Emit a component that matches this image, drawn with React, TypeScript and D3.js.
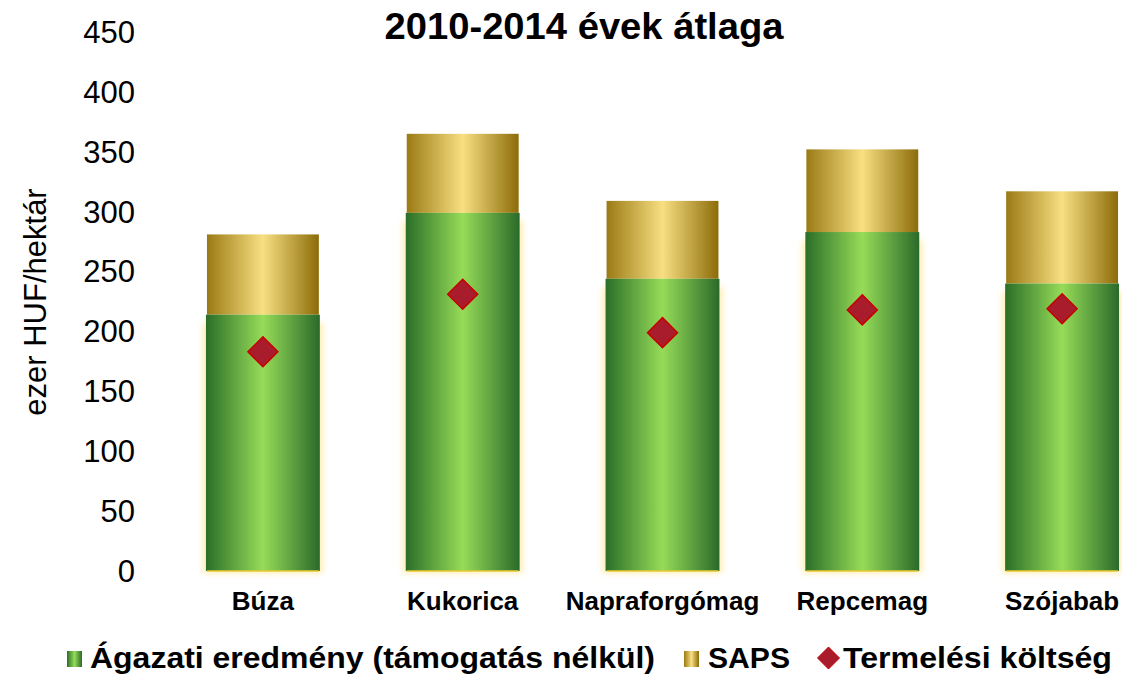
import React from "react";
import * as d3 from "d3";

const categories = ["Búza", "Kukorica", "Napraforgómag", "Repcemag", "Szójabab"];
const agazati = [214, 299, 244, 283, 240];
const sapsTotal = [281, 365, 309, 352, 317];
const koltseg = [183, 231, 199, 218, 219];
const yTicks = [0, 50, 100, 150, 200, 250, 300, 350, 400, 450];

const W = 1122;
const H = 678;

export default function App() {
  const x = d3.scaleBand<string>().domain(categories).range([163, 1162]).paddingInner(0.44).paddingOuter(0.22);
  const y = d3.scaleLinear().domain([0, 450]).range([571, 32]);
  const bw = x.bandwidth();
  const font = "'Liberation Sans', Arial, sans-serif";
  return (
    <svg width={W} height={H} style={{ position: "absolute", left: 0, top: 0, background: "#fff" }} fontFamily={font}>
      <defs>
        <linearGradient id="gGreen" x1="0" x2="1" y1="0" y2="0">
          <stop offset="0" stopColor="#2a6e28" />
          <stop offset="0.5" stopColor="#96dc58" />
          <stop offset="1" stopColor="#2a6a2a" />
        </linearGradient>
        <linearGradient id="gGold" x1="0" x2="1" y1="0" y2="0">
          <stop offset="0" stopColor="#9a7a14" />
          <stop offset="0.5" stopColor="#f8df82" />
          <stop offset="1" stopColor="#8c6c08" />
        </linearGradient>
        <filter id="glow" x="-20%" y="-20%" width="140%" height="140%">
          <feGaussianBlur stdDeviation="3" />
        </filter>
      </defs>
      <rect x={0} y={0} width={W} height={H} fill="#fff" />
      <text x={584} y={39} textAnchor="middle" fontSize={36} fontWeight="bold" textLength={399} lengthAdjust="spacingAndGlyphs">2010-2014 évek átlaga</text>
      {yTicks.map((t) => (
        <text key={t} x={135} y={y(t)} dy="0.35em" textAnchor="end" fontSize={31}>{t}</text>
      ))}
      <text transform={`translate(46,302) rotate(-90)`} textAnchor="middle" fontSize={31}>ezer HUF/hektár</text>
      {categories.map((c, i) => {
        const x0 = x(c)!;
        return (
          <g key={c}>
            <rect x={x0} y={y(sapsTotal[i])} width={bw} height={y(agazati[i]) - y(sapsTotal[i])} fill="url(#gGold)" />
            <rect x={x0 - 4} y={y(agazati[i]) + 8} width={bw + 8} height={y(0) - y(agazati[i]) - 6} fill="#ffe8a0" opacity={0.8} filter="url(#glow)" />
            <rect x={x0 - 1} y={y(agazati[i])} width={bw + 2} height={y(0) - y(agazati[i])} fill="url(#gGreen)" />
            <line x1={x0} x2={x0 + bw} y1={y(0)} y2={y(0)} stroke="#e8c830" strokeWidth={1.5} />
            <text x={x0 + bw / 2} y={610} textAnchor="middle" fontSize={26} fontWeight="bold">{c}</text>
          </g>
        );
      })}
      {categories.map((c, i) => {
        const cx = x(c)! + bw / 2;
        const cy = y(koltseg[i]);
        const r = 15;
        return (
          <path key={c} d={`M${cx},${cy - r}L${cx + r},${cy}L${cx},${cy + r}L${cx - r},${cy}Z`} fill="#a81c2c" stroke="#c80000" strokeWidth={1.5} />
        );
      })}
      <g fontSize={30} fontWeight="bold">
        <rect x={67} y={651} width={15} height={16} fill="url(#gGreen)" />
        <text x={90} y={668} textLength={565} lengthAdjust="spacingAndGlyphs">Ágazati eredmény (támogatás nélkül)</text>
        <rect x={684} y={651} width={15} height={16} fill="url(#gGold)" />
        <text x={708} y={668} textLength={82} lengthAdjust="spacingAndGlyphs">SAPS</text>
        <path d="M828.5,647L839.5,658L828.5,669L817.5,658Z" fill="#a81c2c" stroke="#c80000" strokeWidth={1} />
        <text x={843} y={668} textLength={269} lengthAdjust="spacingAndGlyphs">Termelési költség</text>
      </g>
    </svg>
  );
}
